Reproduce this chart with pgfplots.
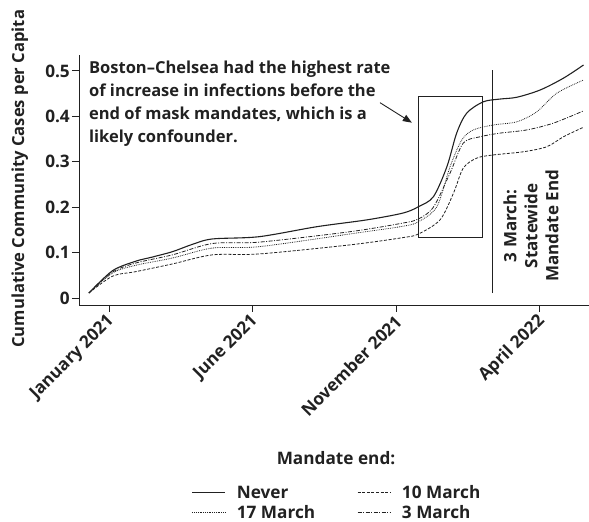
\documentclass[border=0pt]{standalone}
\usepackage{fontspec}
\setmainfont{Open Sans}
\usepackage{pgfplots}
\pgfplotsset{compat=1.18}
\usetikzlibrary{arrows.meta}
\newcommand\f{\fontsize{16.5bp}{23bp}\selectfont\bfseries}
\newcommand\g{\fontsize{17.2bp}{20bp}\selectfont\bfseries}
\definecolor{ink}{gray}{0.13}
\begin{document}
\begin{tikzpicture}
\useasboundingbox (0bp,0bp) rectangle (589bp,522bp);
\begin{axis}[
  at={(79bp,217bp)}, anchor=south west,
  scale only axis, width=510bp, height=250bp,
  xmin=-1.045, xmax=16.72, ymin=-0.0154, ymax=0.535,
  axis lines=left, axis line style={-, line width=0.9pt, ink},
  tick align=outside, major tick length=7bp,
  tick style={ink, line width=0.8pt},
  xtick={0,5,10,15},
  xticklabels={January 2021, June 2021, November 2021, April 2022},
  ytick={0,0.1,0.2,0.3,0.4,0.5},
  yticklabels={0,0.1,0.2,0.3,0.4,0.5},
  ticklabel style={font=\g, text=ink},
  xticklabel style={anchor=east, inner sep=2bp, xshift=4bp, yshift=-5bp, rotate=45},
  yticklabel style={inner sep=2bp},
  ylabel={Cumulative Community Cases per Capita},
  ylabel style={at={(axis description cs:-0.116,0.505)}, anchor=center, font=\fontsize{16.6bp}{20bp}\selectfont\bfseries, text=ink},
  clip=false,
  legend columns=2,
  legend cell align=left,
  legend style={draw=none, fill=none, at={(axis description cs:0.506,-0.79)}, anchor=center,
    font=\g, text=ink,
    /tikz/every odd column/.append style={column sep=9bp},
    /tikz/every even column/.append style={column sep=40bp},
    row sep=1bp, inner sep=0pt},
  legend image code/.code={\draw[#1] (0bp,0bp) -- (33bp,0bp);},
]
\addplot[ink, line width=1.1pt, smooth, tension=0.5] coordinates {
(-0.70,0.011) (0.12,0.060) (0.93,0.081) (1.5,0.090) (2.21,0.102) (2.9,0.118) (3.60,0.130)
(5.23,0.135) (7.24,0.157) (8.98,0.172) (10.24,0.187) (10.78,0.201) (11.30,0.223)
(11.77,0.289) (12.11,0.363) (12.46,0.407) (13.04,0.432) (13.62,0.438) (14.21,0.442)
(15.02,0.458) (15.83,0.484) (16.53,0.513)};
\addlegendentry{Never}
\addplot[ink, line width=0.8pt, dash pattern=on 3bp off 1.6bp, smooth, tension=0.5] coordinates {
(-0.70,0.011) (0.12,0.048) (0.93,0.058) (2.21,0.075) (3.60,0.095) (5.23,0.097)
(8.40,0.117) (10.24,0.133) (10.78,0.141) (11.53,0.172) (12.00,0.231) (12.34,0.286)
(12.81,0.308) (13.39,0.315) (14.44,0.322) (15.25,0.333) (15.83,0.355) (16.53,0.376)};
\addlegendentry{10 March}
\addplot[ink, line width=0.8pt, dash pattern=on 0.8bp off 1bp, smooth, tension=0.5] coordinates {
(-0.70,0.011) (0.12,0.055) (0.93,0.072) (2.21,0.088) (3.60,0.110) (5.23,0.113)
(8.40,0.141) (10.24,0.158) (10.78,0.168) (11.42,0.201) (11.88,0.289) (12.29,0.348)
(12.69,0.370) (13.39,0.381) (14.21,0.388) (14.90,0.410) (15.60,0.451) (16.53,0.480)};
\addlegendentry{17 March}
\addplot[ink, line width=0.8pt, dash pattern=on 4bp off 1.5bp on 1bp off 1.5bp, smooth, tension=0.5] coordinates {
(-0.70,0.011) (0.12,0.057) (0.93,0.077) (2.21,0.095) (3.60,0.120) (5.23,0.123)
(8.40,0.146) (10.24,0.165) (10.78,0.174) (11.30,0.200) (11.88,0.275) (12.34,0.341)
(12.93,0.355) (13.62,0.363) (14.55,0.370) (15.48,0.385) (16.53,0.412)};
\addlegendentry{3 March}
\draw[ink, line width=0.9pt] (axis cs:10.79,0.134) rectangle (axis cs:13.02,0.443);
\draw[ink, line width=1pt] (axis cs:13.35,0.011) -- (axis cs:13.35,0.502);
\draw[ink, line width=0.9pt, -{Triangle[length=9bp,width=7bp]}] (axis cs:9.44,0.430) -- (axis cs:10.55,0.386);
\node[anchor=north west, align=left, font=\f, text=ink, inner sep=0pt] at (axis cs:-0.70,0.522)
 {Boston--Chelsea had the highest rate\\of increase in infections before the\\end of mask mandates, which is a\\likely confounder.};
\node[rotate=90, align=center, font=\fontsize{17bp}{21bp}\selectfont\bfseries, text=ink] at (axis cs:14.70,0.159)
 {3 March:\\Statewide\\Mandate End};
\node[font=\g, text=ink] at (axis description cs:0.504,-0.612) {Mandate end:};
\end{axis}
\end{tikzpicture}
\end{document}
